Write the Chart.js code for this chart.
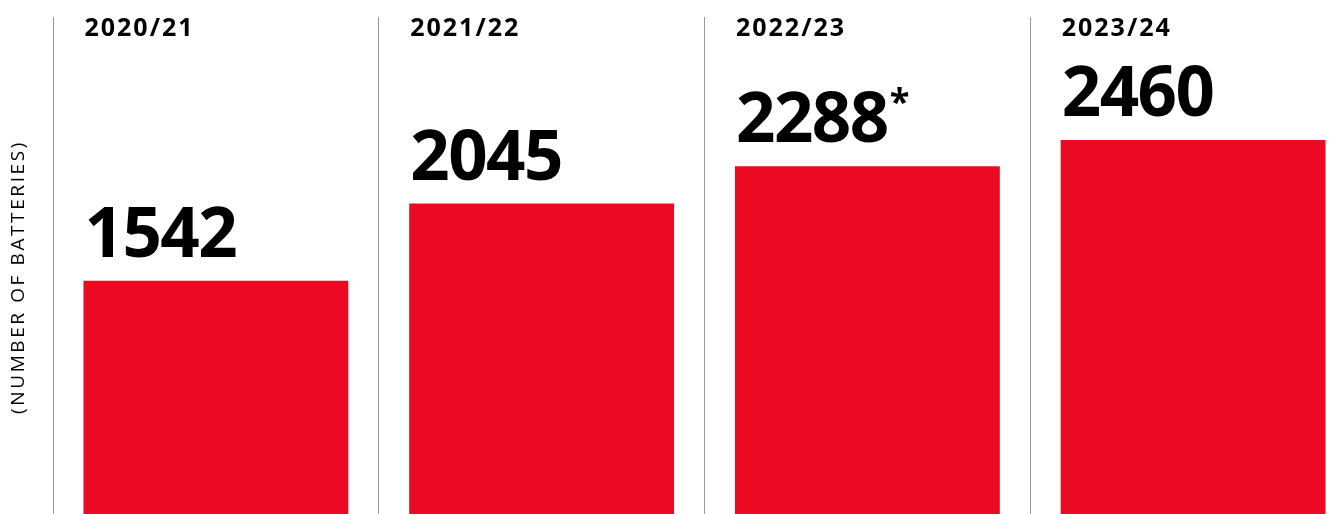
<!DOCTYPE html>
<html>
<head>
<meta charset="utf-8">
<script src="https://cdn.jsdelivr.net/npm/chart.js@4/dist/chart.umd.min.js"></script>
<style>
  html, body { margin: 0; padding: 0; background: #fff; overflow: hidden; }
  #wrap { position: absolute; left: 0; top: 0; width: 1360px; height: 517px; }
</style>
</head>
<body>
<div id="wrap"><canvas id="batteries" width="1360" height="517"></canvas></div>
<script>
// データ
const years = ['2020/21', '2021/22', '2022/23', '2023/24'];
const batteries = [1542, 2045, 2288, 2460];
const notes = ['', '', '*', ''];
const axisTitle = '(NUMBER OF BATTERIES)';

const RED_BAR = '#eb0a22';
const GREY_LINE = '#9a9a9a';
const FONT = '"Open Sans", "Noto Sans", sans-serif';

// 数字・年度ラベル
const barLabels = {
    id: 'barLabels',
    afterDatasetsDraw(chart) {
        const ctx = chart.ctx;
        const meta = chart.getDatasetMeta(0);
        ctx.save();
        ctx.fillStyle = '#000';
        ctx.textAlign = 'left';
        ctx.textBaseline = 'alphabetic';
        meta.data.forEach(function(bar, i) {
            const left = bar.x - bar.width / 2;

            // 年度
            ctx.font = 'bold 25px ' + FONT;
            ctx.letterSpacing = '2px';
            ctx.fillText(years[i], left + 1, 36);

            // 値
            ctx.font = 'bold 69px ' + FONT;
            ctx.letterSpacing = '-1.5px';
            const txt = String(batteries[i]);
            ctx.fillText(txt, left + 1, bar.y - 24);
            if (notes[i]) {
                const w = ctx.measureText(txt).width;
                ctx.font = 'bold 36px ' + FONT;
                ctx.letterSpacing = '0px';
                ctx.fillText(notes[i], left + w + 3, bar.y - 52);
            }
        });
        ctx.restore();
    }
};

// 縦軸タイトル
const yTitle = {
    id: 'yTitle',
    afterDraw(chart) {
        const ctx = chart.ctx;
        ctx.save();
        ctx.translate(19, 277);
        ctx.rotate(-Math.PI / 2);
        ctx.font = '19px ' + FONT;
        ctx.letterSpacing = '2.6px';
        ctx.fillStyle = '#000';
        ctx.textAlign = 'center';
        ctx.textBaseline = 'middle';
        ctx.fillText(axisTitle, 0, 0);
        ctx.restore();
    }
};

const ctx = document.getElementById('batteries').getContext('2d');
new Chart(ctx, {
    type: 'bar',
    data: {
        labels: years,
        datasets: [{
            data: batteries,
            backgroundColor: RED_BAR,
            borderWidth: 0,
            categoryPercentage: 1,
            barPercentage: 0.813
        }]
    },
    options: {
        responsive: false,
        devicePixelRatio: 1,
        animation: false,
        layout: { padding: { left: 53, right: 4, top: 17, bottom: 0 } },
        plugins: {
            legend: { display: false },
            tooltip: { enabled: false }
        },
        scales: {
            x: {
                position: 'bottom',
                ticks: { display: false },
                border: { display: false },
                grid: { color: GREY_LINE, lineWidth: 1, drawTicks: false, offset: true }
            },
            y: {
                display: false,
                min: 0,
                max: 3262
            }
        }
    },
    plugins: [barLabels, yTitle]
});
</script>
</body>
</html>
